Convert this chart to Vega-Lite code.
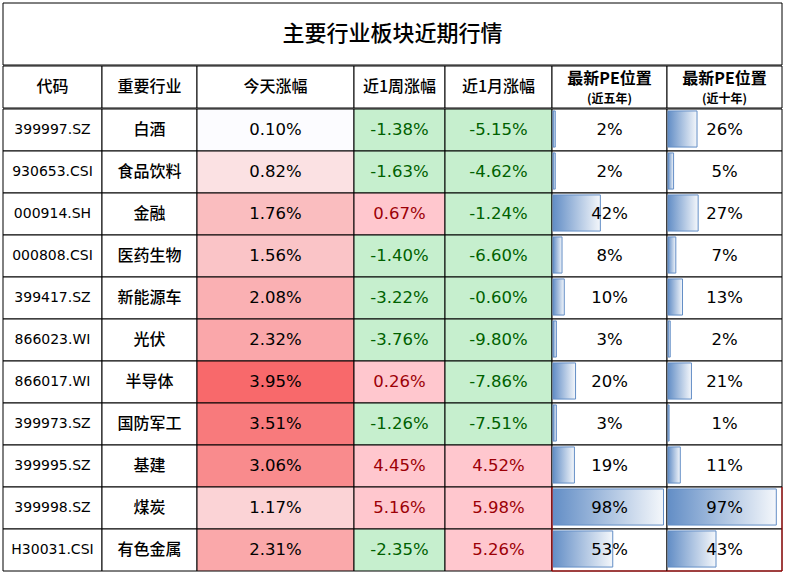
{
  "$schema": "https://vega.github.io/schema/vega-lite/v6.json",
  "background": "white",
  "padding": {"left": 2, "top": 2, "right": 0, "bottom": 0},
  "spacing": -1,
  "config": {
    "view": {"stroke": null},
    "locale": {"number": {"decimal": ".", "thousands": ",", "grouping": [3], "currency": ["$", ""], "minus": "-"}}
  },
  "datasets": {
    "t": [
      {"code": "399997.SZ", "name": "白酒", "today": 0.0010, "week": -0.0138, "month": -0.0515, "pe5": 0.02, "pe10": 0.26},
      {"code": "930653.CSI", "name": "食品饮料", "today": 0.0082, "week": -0.0163, "month": -0.0462, "pe5": 0.02, "pe10": 0.05},
      {"code": "000914.SH", "name": "金融", "today": 0.0176, "week": 0.0067, "month": -0.0124, "pe5": 0.42, "pe10": 0.27},
      {"code": "000808.CSI", "name": "医药生物", "today": 0.0156, "week": -0.0140, "month": -0.0660, "pe5": 0.08, "pe10": 0.07},
      {"code": "399417.SZ", "name": "新能源车", "today": 0.0208, "week": -0.0322, "month": -0.0060, "pe5": 0.10, "pe10": 0.13},
      {"code": "866023.WI", "name": "光伏", "today": 0.0232, "week": -0.0376, "month": -0.0980, "pe5": 0.03, "pe10": 0.02},
      {"code": "866017.WI", "name": "半导体", "today": 0.0395, "week": 0.0026, "month": -0.0786, "pe5": 0.20, "pe10": 0.21},
      {"code": "399973.SZ", "name": "国防军工", "today": 0.0351, "week": -0.0126, "month": -0.0751, "pe5": 0.03, "pe10": 0.01},
      {"code": "399995.SZ", "name": "基建", "today": 0.0306, "week": 0.0445, "month": 0.0452, "pe5": 0.19, "pe10": 0.11},
      {"code": "399998.SZ", "name": "煤炭", "today": 0.0117, "week": 0.0516, "month": 0.0598, "pe5": 0.98, "pe10": 0.97},
      {"code": "H30031.CSI", "name": "有色金属", "today": 0.0231, "week": -0.0235, "month": 0.0526, "pe5": 0.53, "pe10": 0.43}
    ]
  },
  "vconcat": [
    {
      "width": 779, "height": 62,
      "data": {"values": [{"l": "主要行业板块近期行情"}]},
      "layer": [
        {"mark": {"type": "rect", "fill": "white", "stroke": "black", "strokeWidth": 1}, "encoding": {}},
        {"mark": {"type": "text", "font": "Noto Sans CJK SC", "fontSize": 22, "fontWeight": 500, "color": "black"}, "encoding": {"text": {"field": "l"}}}
      ]
    },
    {
      "bounds": "flush",
      "spacing": 0,
      "hconcat": [
        {"width": 99, "height": 42, "data": {"values": [{"l": "代码"}]}, "layer": [
          {"mark": {"type": "rect", "fill": "white", "stroke": "black", "strokeWidth": 1}, "encoding": {}},
          {"mark": {"type": "text", "font": "Noto Sans CJK SC", "fontSize": 16, "fontWeight": 500, "color": "black"}, "encoding": {"text": {"field": "l"}}}]},
        {"width": 95, "height": 42, "data": {"values": [{"l": "重要行业"}]}, "layer": [
          {"mark": {"type": "rect", "fill": "white", "stroke": "black", "strokeWidth": 1}, "encoding": {}},
          {"mark": {"type": "text", "font": "Noto Sans CJK SC", "fontSize": 16, "fontWeight": 500, "color": "black"}, "encoding": {"text": {"field": "l"}}}]},
        {"width": 157, "height": 42, "data": {"values": [{"l": "今天涨幅"}]}, "layer": [
          {"mark": {"type": "rect", "fill": "white", "stroke": "black", "strokeWidth": 1}, "encoding": {}},
          {"mark": {"type": "text", "font": "Noto Sans CJK SC", "fontSize": 16, "fontWeight": 500, "color": "black"}, "encoding": {"text": {"field": "l"}}}]},
        {"width": 91, "height": 42, "data": {"values": [{"l": "近1周涨幅"}]}, "layer": [
          {"mark": {"type": "rect", "fill": "white", "stroke": "black", "strokeWidth": 1}, "encoding": {}},
          {"mark": {"type": "text", "font": "Noto Sans CJK SC", "fontSize": 16, "fontWeight": 500, "color": "black"}, "encoding": {"text": {"field": "l"}}}]},
        {"width": 107, "height": 42, "data": {"values": [{"l": "近1月涨幅"}]}, "layer": [
          {"mark": {"type": "rect", "fill": "white", "stroke": "black", "strokeWidth": 1}, "encoding": {}},
          {"mark": {"type": "text", "font": "Noto Sans CJK SC", "fontSize": 16, "fontWeight": 500, "color": "black"}, "encoding": {"text": {"field": "l"}}}]},
        {"width": 115, "height": 42, "data": {"values": [{"l": "最新PE位置", "s": "(近五年)"}]}, "layer": [
          {"mark": {"type": "rect", "fill": "white", "stroke": "black", "strokeWidth": 1}, "encoding": {}},
          {"mark": {"type": "text", "font": "Noto Sans CJK SC", "fontSize": 16, "fontWeight": "bold", "color": "black", "dy": -8}, "encoding": {"text": {"field": "l"}}},
          {"mark": {"type": "text", "font": "Noto Sans CJK SC", "fontSize": 12, "fontWeight": "bold", "color": "black", "dy": 12}, "encoding": {"text": {"field": "s"}}}]},
        {"width": 115, "height": 42, "data": {"values": [{"l": "最新PE位置", "s": "(近十年)"}]}, "layer": [
          {"mark": {"type": "rect", "fill": "white", "stroke": "black", "strokeWidth": 1}, "encoding": {}},
          {"mark": {"type": "text", "font": "Noto Sans CJK SC", "fontSize": 16, "fontWeight": "bold", "color": "black", "dy": -8}, "encoding": {"text": {"field": "l"}}},
          {"mark": {"type": "text", "font": "Noto Sans CJK SC", "fontSize": 12, "fontWeight": "bold", "color": "black", "dy": 12}, "encoding": {"text": {"field": "s"}}}]}
      ]
    },
    {
      "bounds": "flush",
      "spacing": 0,
      "hconcat": [
        {
          "width": 99, "height": 462, "data": {"name": "t"},
          "encoding": {"y": {"field": "code", "type": "nominal", "sort": null, "axis": null, "scale": {"paddingInner": 0, "paddingOuter": 0}}},
          "layer": [
            {"mark": {"type": "rect", "fill": "white", "stroke": "black", "strokeWidth": 1}},
            {"mark": {"type": "text", "font": "DejaVu Sans", "fontSize": 14, "color": "black"}, "encoding": {"text": {"field": "code"}}}
          ]
        },
        {
          "width": 95, "height": 462, "data": {"name": "t"},
          "encoding": {"y": {"field": "code", "type": "nominal", "sort": null, "axis": null, "scale": {"paddingInner": 0, "paddingOuter": 0}}},
          "layer": [
            {"mark": {"type": "rect", "fill": "white", "stroke": "black", "strokeWidth": 1}},
            {"mark": {"type": "text", "font": "Noto Sans CJK SC", "fontSize": 16, "fontWeight": 500, "color": "black"}, "encoding": {"text": {"field": "name"}}}
          ]
        },
        {
          "width": 157, "height": 462, "data": {"name": "t"},
          "encoding": {"y": {"field": "code", "type": "nominal", "sort": null, "axis": null, "scale": {"paddingInner": 0, "paddingOuter": 0}}},
          "layer": [
            {"mark": {"type": "rect", "stroke": "black", "strokeWidth": 1},
             "encoding": {"fill": {"field": "today", "type": "quantitative", "legend": null, "scale": {"domain": [0.001, 0.0395], "range": ["#fcfcff", "#f8696b"], "interpolate": "rgb"}}}},
            {"mark": {"type": "text", "font": "DejaVu Sans", "fontSize": 16.5, "color": "black"}, "encoding": {"text": {"field": "today", "type": "quantitative", "format": ".2%"}}}
          ]
        },
        {
          "width": 91, "height": 462, "data": {"name": "t"},
          "encoding": {"y": {"field": "code", "type": "nominal", "sort": null, "axis": null, "scale": {"paddingInner": 0, "paddingOuter": 0}}},
          "layer": [
            {"mark": {"type": "rect", "stroke": "black", "strokeWidth": 1},
             "encoding": {"fill": {"condition": {"test": "datum.week > 0", "value": "#ffc7ce"}, "value": "#c6efce"}}},
            {"mark": {"type": "text", "font": "DejaVu Sans", "fontSize": 16.5},
             "encoding": {"text": {"field": "week", "type": "quantitative", "format": ".2%"},
                          "color": {"condition": {"test": "datum.week > 0", "value": "#9c0006"}, "value": "#006100"}}}
          ]
        },
        {
          "width": 107, "height": 462, "data": {"name": "t"},
          "encoding": {"y": {"field": "code", "type": "nominal", "sort": null, "axis": null, "scale": {"paddingInner": 0, "paddingOuter": 0}}},
          "layer": [
            {"mark": {"type": "rect", "stroke": "black", "strokeWidth": 1},
             "encoding": {"fill": {"condition": {"test": "datum.month > 0", "value": "#ffc7ce"}, "value": "#c6efce"}}},
            {"mark": {"type": "text", "font": "DejaVu Sans", "fontSize": 16.5},
             "encoding": {"text": {"field": "month", "type": "quantitative", "format": ".2%"},
                          "color": {"condition": {"test": "datum.month > 0", "value": "#9c0006"}, "value": "#006100"}}}
          ]
        },
        {
          "width": 115, "height": 462, "data": {"name": "t"},
          "encoding": {"y": {"field": "code", "type": "nominal", "sort": null, "axis": null, "scale": {"paddingInner": 0, "paddingOuter": 0}}},
          "layer": [
            {"mark": {"type": "rect", "fill": "white", "stroke": "black", "strokeWidth": 1}},
            {"mark": {"type": "bar", "height": {"band": 0.86}, "yOffset": -1, "xOffset": 1,
                      "fill": {"gradient": "linear", "x1": 0, "y1": 0, "x2": 1, "y2": 0, "stops": [{"offset": 0, "color": "#638ec6"}, {"offset": 1, "color": "#f4f7fb"}]},
                      "stroke": "#638ec6", "strokeWidth": 1},
             "encoding": {"x": {"field": "pe5", "type": "quantitative", "axis": null, "scale": {"domain": [0, 1.02]}}}},
            {"transform": [{"filter": "datum.name === '煤炭'"}],
             "mark": {"type": "rect", "fill": "transparent", "stroke": "#c00000", "strokeWidth": 1, "strokeDash": [0, 272, 42]}},
            {"transform": [{"filter": "datum.name === '有色金属'"}],
             "mark": {"type": "rect", "fill": "transparent", "stroke": "#c00000", "strokeWidth": 1, "strokeDash": [0, 157, 157]}},
            {"mark": {"type": "text", "font": "DejaVu Sans", "fontSize": 16.5, "color": "black"}, "encoding": {"text": {"field": "pe5", "type": "quantitative", "format": ".0%"}}}
          ]
        },
        {
          "width": 115, "height": 462, "data": {"name": "t"},
          "encoding": {"y": {"field": "code", "type": "nominal", "sort": null, "axis": null, "scale": {"paddingInner": 0, "paddingOuter": 0}}},
          "layer": [
            {"mark": {"type": "rect", "fill": "white", "stroke": "black", "strokeWidth": 1}},
            {"mark": {"type": "bar", "height": {"band": 0.86}, "yOffset": -1, "xOffset": 1,
                      "fill": {"gradient": "linear", "x1": 0, "y1": 0, "x2": 1, "y2": 0, "stops": [{"offset": 0, "color": "#638ec6"}, {"offset": 1, "color": "#f4f7fb"}]},
                      "stroke": "#638ec6", "strokeWidth": 1},
             "encoding": {"x": {"field": "pe10", "type": "quantitative", "axis": null, "scale": {"domain": [0, 1.03]}}}},
            {"transform": [{"filter": "datum.name === '煤炭'"}],
             "mark": {"type": "rect", "fill": "transparent", "stroke": "#c00000", "strokeWidth": 1, "strokeDash": [0, 115, 42, 157]}},
            {"transform": [{"filter": "datum.name === '有色金属'"}],
             "mark": {"type": "rect", "fill": "transparent", "stroke": "#c00000", "strokeWidth": 1, "strokeDash": [0, 115, 157, 42]}},
            {"mark": {"type": "text", "font": "DejaVu Sans", "fontSize": 16.5, "color": "black"}, "encoding": {"text": {"field": "pe10", "type": "quantitative", "format": ".0%"}}}
          ]
        }
      ]
    }
  ]
}
